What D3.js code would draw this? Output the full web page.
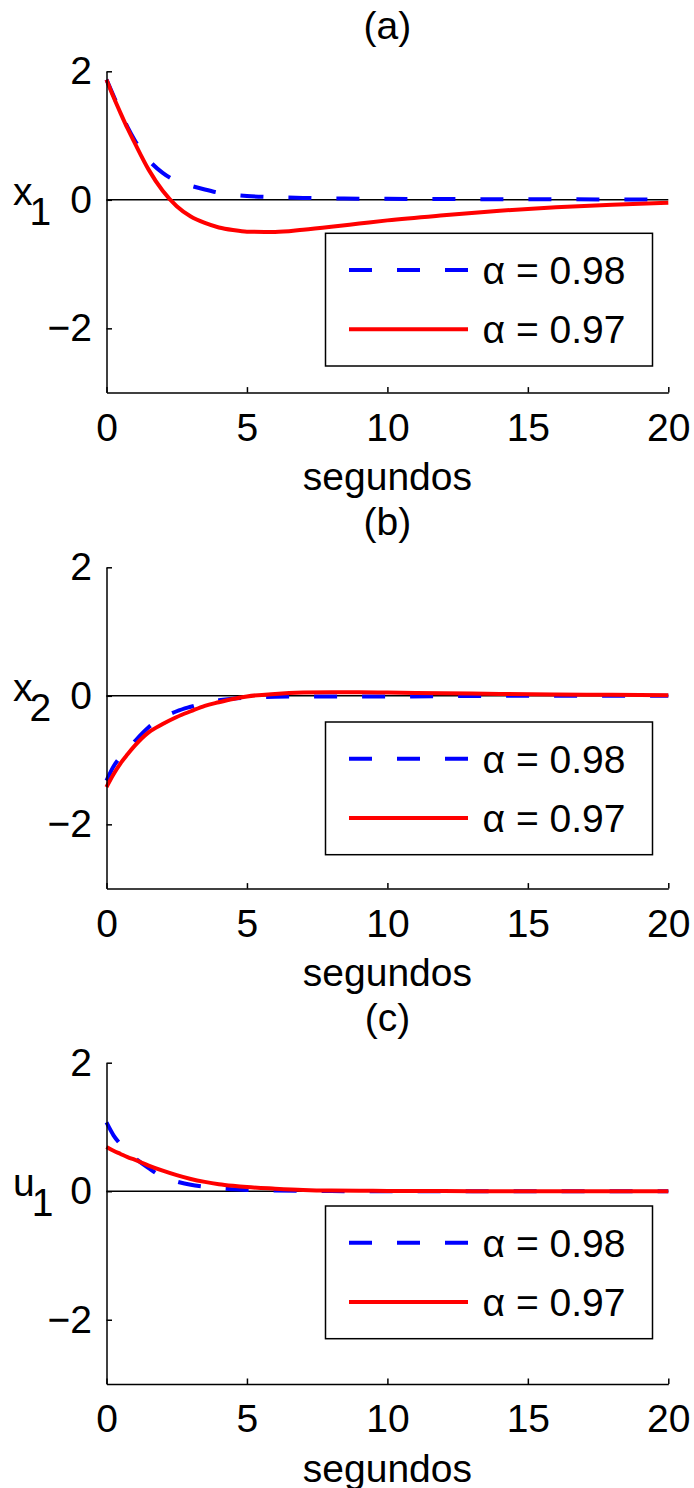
<!DOCTYPE html>
<html>
<head>
<meta charset="utf-8">
<script src="https://cdn.jsdelivr.net/npm/d3@7"></script>
<style>
  body { margin: 0; background: #fff; }
  text { font-family: "Liberation Sans", Arial, Helvetica, sans-serif; fill: #000; }
</style>
</head>
<body>
<svg id="chart" width="694" height="1488"></svg>
<script>
// time samples (segundos)
const tSec = [0, 0.25, 0.5, 0.75, 1, 1.5, 2, 2.5, 3, 3.5, 4, 4.5, 5, 6, 7, 8, 9, 10, 12, 14, 16, 18, 20];

// (a) x1
const x1Alpha098 = [1.87, 1.62, 1.36, 1.13, 0.93, 0.62, 0.42, 0.29, 0.22, 0.16, 0.11, 0.08, 0.06, 0.04, 0.03, 0.02, 0.018, 0.015, 0.012, 0.01, 0.008, 0.006, 0.005];
const x1Alpha097 = [1.87, 1.60, 1.35, 1.11, 0.89, 0.47, 0.14, -0.10, -0.26, -0.36, -0.43, -0.47, -0.495, -0.50, -0.465, -0.42, -0.37, -0.32, -0.24, -0.17, -0.115, -0.075, -0.045];
// (b) x2
const x2Alpha098 = [-1.32, -1.10, -0.95, -0.83, -0.71, -0.49, -0.34, -0.24, -0.17, -0.11, -0.07, -0.045, -0.03, -0.015, -0.01, -0.01, -0.01, -0.01, -0.005, 0, 0, 0, 0];
const x2Alpha097 = [-1.42, -1.22, -1.05, -0.91, -0.78, -0.57, -0.44, -0.33, -0.24, -0.155, -0.10, -0.05, -0.01, 0.03, 0.05, 0.055, 0.055, 0.05, 0.04, 0.03, 0.02, 0.015, 0.01];
// (c) u1
const u1Alpha098 = [1.07, 0.87, 0.73, 0.61, 0.52, 0.36, 0.22, 0.15, 0.10, 0.07, 0.045, 0.03, 0.02, 0.01, 0.005, 0.002, 0, 0, 0, 0, 0, 0, 0];
const u1Alpha097 = [0.69, 0.63, 0.58, 0.53, 0.49, 0.40, 0.32, 0.25, 0.19, 0.145, 0.11, 0.085, 0.065, 0.04, 0.02, 0.01, 0.007, 0.005, 0.002, 0, 0, 0, 0];

const panelTitles = ["(a)", "(b)", "(c)"];
const yLabels = [["x", "1"], ["x", "2"], ["u", "1"]];
const legendLabels = ["\u03b1 = 0.98", "\u03b1 = 0.97"];
const xTicks = [0, 5, 10, 15, 20];
const yTicks = [2, 0, -2];

const panels = [
  { title: panelTitles[0], ylab: yLabels[0], s98: x1Alpha098, s97: x1Alpha097 },
  { title: panelTitles[1], ylab: yLabels[1], s98: x2Alpha098, s97: x2Alpha097 },
  { title: panelTitles[2], ylab: yLabels[2], s98: u1Alpha098, s97: u1Alpha097 }
];

// layout
const panelTop = [71.3, 567.3, 1062.7];
const legendTop = [233.3, 722, 1206];
const plotH = 321.3;
const fontSize = 39;
const blue = "#0000ff", red = "#ff0000";

const svg = d3.select("#chart");
const x = d3.scaleLinear().domain([0, 20]).range([106.5, 668.3]);

panels.forEach((p, i) => {
  const top = panelTop[i];
  const y = d3.scaleLinear().domain([-3, 2]).range([top + plotH, top]);
  const g = svg.append("g");

  // zero line
  g.append("line")
    .attr("x1", x(0)).attr("x2", x(20))
    .attr("y1", y(0)).attr("y2", y(0))
    .attr("stroke", "#000").attr("stroke-width", 1.5);

  const line = d3.line()
    .x((d, k) => x(tSec[k]))
    .y(d => y(d))
    .curve(d3.curveMonotoneX);

  g.append("path")
    .attr("d", line(p.s98))
    .attr("fill", "none")
    .attr("stroke", blue)
    .attr("stroke-width", 4)
    .attr("stroke-dasharray", "23,25");

  g.append("path")
    .attr("d", line(p.s97))
    .attr("fill", "none")
    .attr("stroke", red)
    .attr("stroke-width", 4);

  // axes
  const yAxis = d3.axisLeft(y).tickValues(yTicks)
    .tickSize(-5.5).tickSizeOuter(0).tickPadding(14.5)
    .tickFormat(d => d < 0 ? "\u2212" + Math.abs(d) : d);
  const xAxis = d3.axisBottom(x).tickValues(xTicks)
    .tickSize(-5.5).tickSizeOuter(0).tickPadding(20.5);

  const ya = g.append("g").attr("transform", `translate(${x(0)},0)`).call(yAxis);
  const xa = g.append("g").attr("transform", `translate(0,${y(-3)})`).call(xAxis);
  [ya, xa].forEach(a => {
    a.select(".domain").attr("stroke", "#000").attr("stroke-width", 1.5);
    a.selectAll(".tick line").attr("stroke", "#000").attr("stroke-width", 1.5);
    a.selectAll(".tick text")
      .attr("font-family", "Liberation Sans, Arial, sans-serif")
      .attr("font-size", fontSize).attr("fill", "#000");
  });

  // title
  g.append("text")
    .attr("x", (x(0) + x(20)) / 2).attr("y", top - 32)
    .attr("text-anchor", "middle")
    .attr("font-size", fontSize)
    .text(p.title);

  // x label
  g.append("text")
    .attr("x", (x(0) + x(20)) / 2).attr("y", y(-3) + 97.5)
    .attr("text-anchor", "middle")
    .attr("font-size", fontSize)
    .text("segundos");

  // y label with subscript
  const yl = g.append("text")
    .attr("x", 13).attr("y", y(0) + 5)
    .attr("font-size", fontSize);
  yl.append("tspan").text(p.ylab[0]);
  yl.append("tspan").attr("dx", -3).attr("dy", 20).text(p.ylab[1]);

  // legend
  const lt = legendTop[i];
  const leg = g.append("g").attr("transform", `translate(325.5,${lt})`);
  leg.append("rect")
    .attr("width", 327).attr("height", 132.7)
    .attr("fill", "#fff").attr("stroke", "#000").attr("stroke-width", 1.5);
  const rows = [
    { label: legendLabels[0], color: blue, dash: "23,25" },
    { label: legendLabels[1], color: red, dash: null }
  ];
  rows.forEach((r, k) => {
    const ry = 36.7 + k * 59.3;
    leg.append("line")
      .attr("x1", 23.5).attr("x2", 142.5)
      .attr("y1", ry).attr("y2", ry)
      .attr("stroke", r.color).attr("stroke-width", 4)
      .attr("stroke-dasharray", r.dash);
    leg.append("text")
      .attr("x", 157).attr("y", ry + 14)
      .attr("font-size", fontSize)
      .text(r.label);
  });
});
</script>
</body>
</html>
